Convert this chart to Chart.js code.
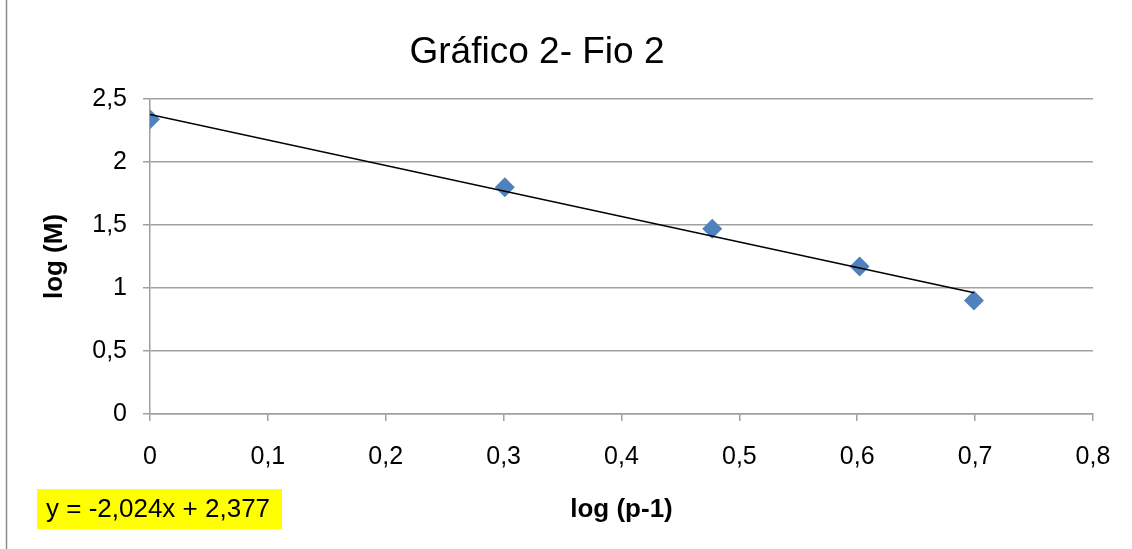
<!DOCTYPE html>
<html>
<head>
<meta charset="utf-8">
<script src="https://cdn.jsdelivr.net/npm/chart.js@4"></script>
<style>
  html, body { margin: 0; padding: 0; background: #fff; }
  #wrap { width: 1132px; height: 549px; }
</style>
</head>
<body>
<div id="wrap"><canvas id="myChart" width="1132" height="549"></canvas></div>
<script>
// valores
const logP = [0, 0.301, 0.477, 0.602, 0.699];
const logM = [2.34, 1.80, 1.47, 1.17, 0.90];
// linha de tendencia (y = -2,024x + 2,377) nas pontas
const trendX = [0, 0.699];
const trendY = [2.377, 0.962];
const titulo = 'Gráfico 2- Fio 2';
const equacao = 'y = -2,024x + 2,377';

const fonte = "'Liberation Sans', Arial, sans-serif";
const virgula = v => Number(v.toFixed(1)).toString().replace('.', ',');

const extras = {
    id: 'extras',
    afterDraw(chart) {
        let ctx = chart.ctx;
        ctx.save();
        // borda esquerda
        ctx.strokeStyle = '#8c8c8c';
        ctx.lineWidth = 1.5;
        ctx.beginPath();
        ctx.moveTo(6.5, 0);
        ctx.lineTo(6.5, 549);
        ctx.stroke();
        // titulo
        ctx.fillStyle = '#000';
        ctx.font = '37px ' + fonte;
        ctx.textAlign = 'center';
        ctx.textBaseline = 'middle';
        ctx.fillText(titulo, 537, 53);
        // equacao
        ctx.fillStyle = '#ffff00';
        ctx.fillRect(37, 489, 245, 40);
        ctx.fillStyle = '#000';
        ctx.font = '26px ' + fonte;
        ctx.textAlign = 'left';
        ctx.fillText(equacao, 46, 510);
        ctx.restore();
    }
};

let ctx = document.getElementById('myChart').getContext('2d');
let myChart = new Chart(ctx, {
    type: 'scatter',
    data: {
        datasets: [{
            label: 'log (M)',
            data: logP.map((x, i) => ({ x: x, y: logM[i] })),
            pointStyle: 'rectRot',
            pointRadius: 10,
            pointHoverRadius: 10,
            backgroundColor: '#4f81bd',
            borderColor: '#4f81bd',
            borderWidth: 0,
            order: 2
        }, {
            label: 'tendencia',
            data: trendX.map((x, i) => ({ x: x, y: trendY[i] })),
            showLine: true,
            pointRadius: 0,
            borderColor: '#000',
            borderWidth: 1.5,
            order: 1
        }]
    },
    options: {
        responsive: false,
        animation: false,
        layout: { padding: { left: 0, right: 39, top: 99, bottom: 0 } },
        plugins: {
            legend: { display: false },
            tooltip: { enabled: false },
            title: { display: false }
        },
        scales: {
            x: {
                type: 'linear',
                min: 0,
                max: 0.8,
                afterFit: s => { s.height = 135; },
                ticks: {
                    stepSize: 0.1,
                    padding: 21,
                    color: '#000',
                    font: { family: fonte, size: 25 },
                    callback: v => virgula(v)
                },
                grid: { drawOnChartArea: false, tickLength: 7, color: '#a0a0a0', lineWidth: 1.5 },
                border: { color: '#a0a0a0', width: 1.5 },
                title: {
                    display: true,
                    text: 'log (p-1)',
                    color: '#000',
                    font: { family: fonte, size: 26, weight: 'bold' },
                    padding: { top: 0, bottom: 24 }
                }
            },
            y: {
                min: 0,
                max: 2.5,
                afterFit: s => { s.width = 150; },
                ticks: {
                    stepSize: 0.5,
                    padding: 16,
                    color: '#000',
                    font: { family: fonte, size: 25 },
                    callback: v => virgula(v)
                },
                grid: { tickLength: 7, color: '#a0a0a0', lineWidth: 1.5 },
                border: { color: '#a0a0a0', width: 1.5 },
                title: {
                    display: true,
                    text: 'log (M)',
                    color: '#000',
                    font: { family: fonte, size: 26, weight: 'bold' },
                    padding: { top: 39, bottom: 0 }
                }
            }
        }
    },
    plugins: [extras]
});
</script>
</body>
</html>
